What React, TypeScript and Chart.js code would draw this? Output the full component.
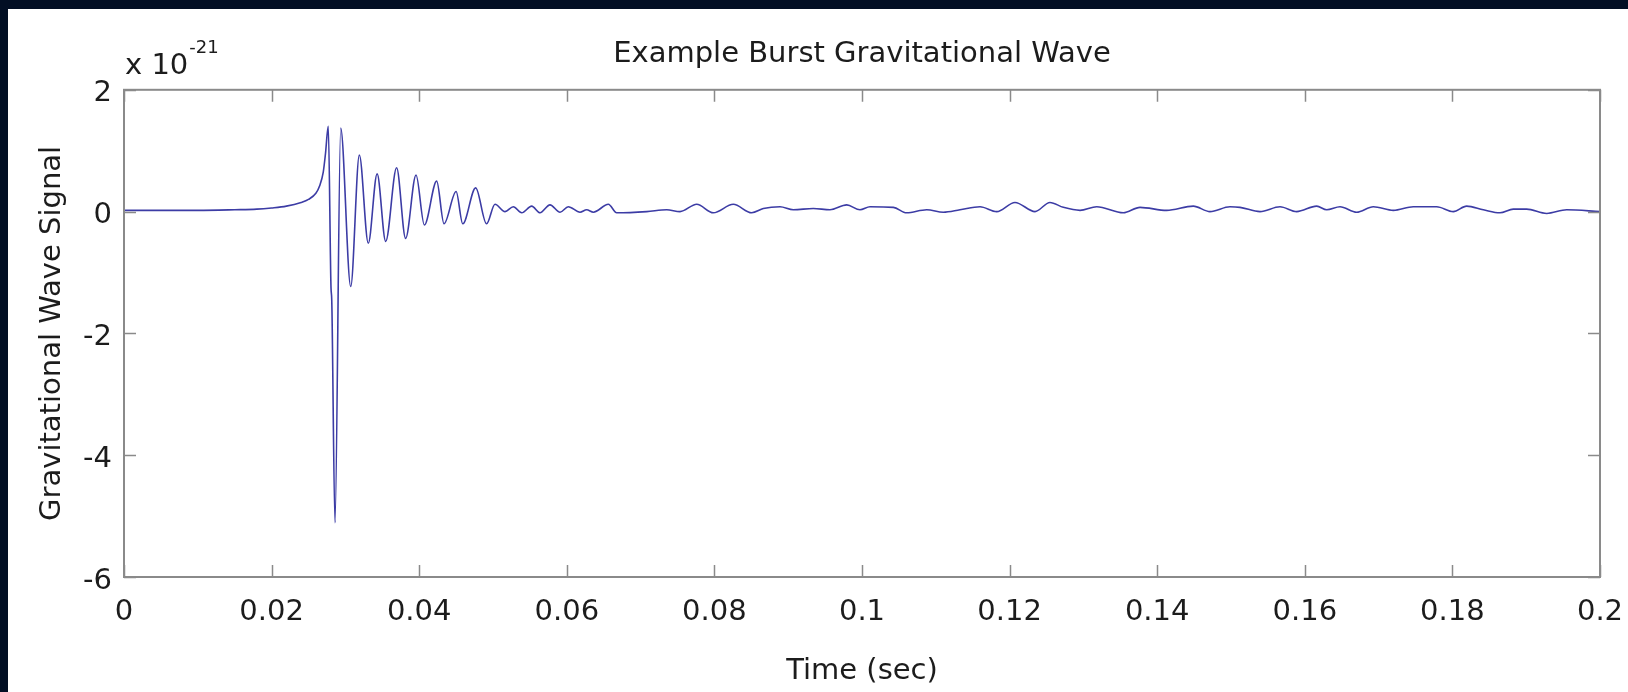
import { useEffect, useRef } from "react";
import { Chart, registerables } from "chart.js";

Chart.register(...registerables);

// ---- text ----
const TITLE = "Example Burst Gravitational Wave";
const X_LABEL = "Time (sec)";
const Y_LABEL = "Gravitational Wave Signal";
const Y_MULTIPLIER_BASE = "x 10";
const Y_MULTIPLIER_EXP = "-21";

// ---- axes ----
const X_MIN = 0;
const X_MAX = 0.2;
const X_STEP = 0.02;
const Y_MIN = -6;
const Y_MAX = 2;
const Y_STEP = 2;

// ---- data: time (s) and signal (in units of 1e-21) ----
const times = [
  0, 0.005, 0.01, 0.015, 0.018, 0.02, 0.022, 0.024, 0.025, 0.026, 0.0265, 0.027, 0.0273,
  0.02768, 0.02805, 0.02815, 0.02859, 0.02936, 0.03072, 0.03189, 0.0331, 0.0343, 0.03546,
  0.03694, 0.03816, 0.03957, 0.0407, 0.04237, 0.04336, 0.045, 0.0459, 0.04765, 0.04913,
  0.05027, 0.05163, 0.05275, 0.05389, 0.05524, 0.05637, 0.05772, 0.05908, 0.0602, 0.06179,
  0.06269, 0.0636, 0.06563, 0.06676, 0.07083, 0.07354, 0.07534, 0.0776, 0.07985, 0.08256,
  0.08505, 0.08663, 0.08889, 0.09069, 0.0934, 0.09566, 0.09793, 0.09973, 0.10108, 0.10425,
  0.10605, 0.10877, 0.11102, 0.11328, 0.11599, 0.11825, 0.12073, 0.12344, 0.12547, 0.12728,
  0.12954, 0.1318, 0.13541, 0.13767, 0.14128, 0.14489, 0.14715, 0.14986, 0.15122, 0.15393,
  0.15664, 0.1589, 0.16161, 0.16297, 0.16477, 0.16703, 0.16928, 0.172, 0.1747, 0.17787,
  0.18012, 0.18193, 0.18419, 0.18645, 0.18825, 0.19007, 0.19278, 0.19549, 0.2,
];
const signal = [
  0.02, 0.02, 0.02, 0.03, 0.04, 0.06, 0.09, 0.15, 0.2, 0.3, 0.42, 0.65, 0.95,
  1.4, -1.25, -1.45, -5.11, 1.37, -1.23, 0.93, -0.52, 0.62, -0.49,
  0.72, -0.44, 0.6, -0.22, 0.5, -0.2, 0.33, -0.2, 0.39, -0.2,
  0.12, 0.0, 0.08, -0.02, 0.09, -0.02, 0.11, -0.01, 0.08, -0.01,
  0.03, -0.01, 0.12, -0.02, 0.0, 0.03, 0.0, 0.12, -0.02, 0.12,
  -0.02, 0.05, 0.08, 0.03, 0.05, 0.03, 0.11, 0.03, 0.08, 0.07,
  -0.02, 0.03, -0.01, 0.03, 0.08, 0.0, 0.15, 0.0, 0.15, 0.07,
  0.02, 0.08, -0.02, 0.07, 0.02, 0.09, 0.0, 0.08, 0.07, 0.0,
  0.08, 0.0, 0.09, 0.03, 0.08, -0.01, 0.08, 0.02, 0.08, 0.08,
  0.0, 0.09, 0.03, -0.02, 0.04, 0.04, -0.03, 0.03, 0.0,
];

// ---- styles ----
const FONT_FAMILY = '"DejaVu Sans", "Liberation Sans", Arial, sans-serif';
const FONT_SIZE = 29;
const TEXT_COLOR = "#1c1c1c";
const AXIS_COLOR = "#8a8a8a";
const LINE_COLOR = "rgb(60,60,165)";
const TICK_LEN = 12;

const matlabFrame = {
  id: "matlabFrame",
  afterDraw(chart: any) {
    const { ctx, chartArea, scales } = chart;
    const { left, right, top, bottom } = chartArea;
    const xs = scales.x;
    const ys = scales.y;
    ctx.save();
    ctx.strokeStyle = AXIS_COLOR;
    ctx.lineWidth = 2;
    ctx.strokeRect(left, top, right - left, bottom - top);
    ctx.lineWidth = 1.5;
    ctx.beginPath();
    xs.ticks.forEach((t: any) => {
      const px = Math.round(xs.getPixelForValue(t.value)) + 0.5;
      ctx.moveTo(px, bottom);
      ctx.lineTo(px, bottom - TICK_LEN);
      ctx.moveTo(px, top);
      ctx.lineTo(px, top + TICK_LEN);
    });
    ys.ticks.forEach((t: any) => {
      const py = Math.round(ys.getPixelForValue(t.value)) + 0.5;
      ctx.moveTo(left, py);
      ctx.lineTo(left + TICK_LEN, py);
      ctx.moveTo(right, py);
      ctx.lineTo(right - TICK_LEN, py);
    });
    ctx.stroke();

    // axis multiplier "x 10^-21"
    ctx.fillStyle = TEXT_COLOR;
    ctx.textAlign = "left";
    ctx.textBaseline = "alphabetic";
    ctx.font = `${FONT_SIZE}px ${FONT_FAMILY}`;
    ctx.fillText(Y_MULTIPLIER_BASE, left + 1, top - 16);
    const w = ctx.measureText(Y_MULTIPLIER_BASE).width;
    ctx.font = `18px ${FONT_FAMILY}`;
    ctx.fillText(Y_MULTIPLIER_EXP, left + 1 + w + 1, top - 37);
    ctx.restore();
  },
};

function fmt(v: number) {
  return String(Number(v.toFixed(4)));
}

export default function App() {
  const ref = useRef<HTMLCanvasElement | null>(null);

  useEffect(() => {
    const canvas = ref.current;
    if (!canvas) return;
    const points = times.map((t, i) => ({ x: t, y: signal[i] }));
    const chart = new Chart(canvas, {
      type: "line",
      data: {
        datasets: [
          {
            data: points,
            borderColor: LINE_COLOR,
            borderWidth: 1.6,
            pointRadius: 0,
            fill: false,
            cubicInterpolationMode: "monotone",
          },
        ],
      },
      options: {
        responsive: false,
        animation: false,
        events: [],
        layout: { padding: { top: 0, right: 28, bottom: 0, left: 0 } },
        plugins: {
          legend: { display: false },
          tooltip: { enabled: false },
          title: {
            display: true,
            fullSize: false,
            text: TITLE,
            color: TEXT_COLOR,
            font: { family: FONT_FAMILY, size: FONT_SIZE, weight: "normal", lineHeight: 1.2 },
            padding: { top: 28, bottom: 18 },
          },
        },
        scales: {
          x: {
            type: "linear",
            min: X_MIN,
            max: X_MAX,
            grid: { display: false, drawTicks: false },
            border: { display: false },
            ticks: {
              stepSize: X_STEP,
              padding: 18,
              color: TEXT_COLOR,
              maxRotation: 0,
              autoSkip: false,
              font: { family: FONT_FAMILY, size: FONT_SIZE, lineHeight: 1.2 },
              callback: (v: any) => fmt(Number(v)),
            },
            title: {
              display: true,
              text: X_LABEL,
              color: TEXT_COLOR,
              font: { family: FONT_FAMILY, size: FONT_SIZE, lineHeight: 1.2 },
              padding: { top: 0, bottom: 3 },
            },
            afterFit: (s: any) => {
              s.height = 115;
              s.paddingLeft = 0;
              s.paddingRight = 0;
            },
          },
          y: {
            type: "linear",
            min: Y_MIN,
            max: Y_MAX,
            grid: { display: false, drawTicks: false },
            border: { display: false },
            ticks: {
              stepSize: Y_STEP,
              padding: 12,
              labelOffset: 4,
              color: TEXT_COLOR,
              font: { family: FONT_FAMILY, size: FONT_SIZE, lineHeight: 1.2 },
              callback: (v: any) => fmt(Number(v)),
            },
            title: {
              display: true,
              text: Y_LABEL,
              color: TEXT_COLOR,
              font: { family: FONT_FAMILY, size: FONT_SIZE, lineHeight: 1.2 },
              padding: { top: 27, bottom: 0 },
            },
            afterFit: (s: any) => {
              s.width = 116;
            },
          },
        },
      },
      plugins: [matlabFrame],
    });
    return () => chart.destroy();
  }, []);

  return (
    <div
      style={{
        position: "fixed",
        left: 0,
        top: 0,
        width: 1628,
        height: 692,
        background: "#020f24",
        overflow: "hidden",
      }}
    >
      <div
        style={{
          position: "absolute",
          left: 8,
          top: 9,
          width: 1620,
          height: 683,
          background: "#ffffff",
        }}
      >
        <canvas ref={ref} width={1620} height={683} style={{ display: "block" }} />
      </div>
    </div>
  );
}
